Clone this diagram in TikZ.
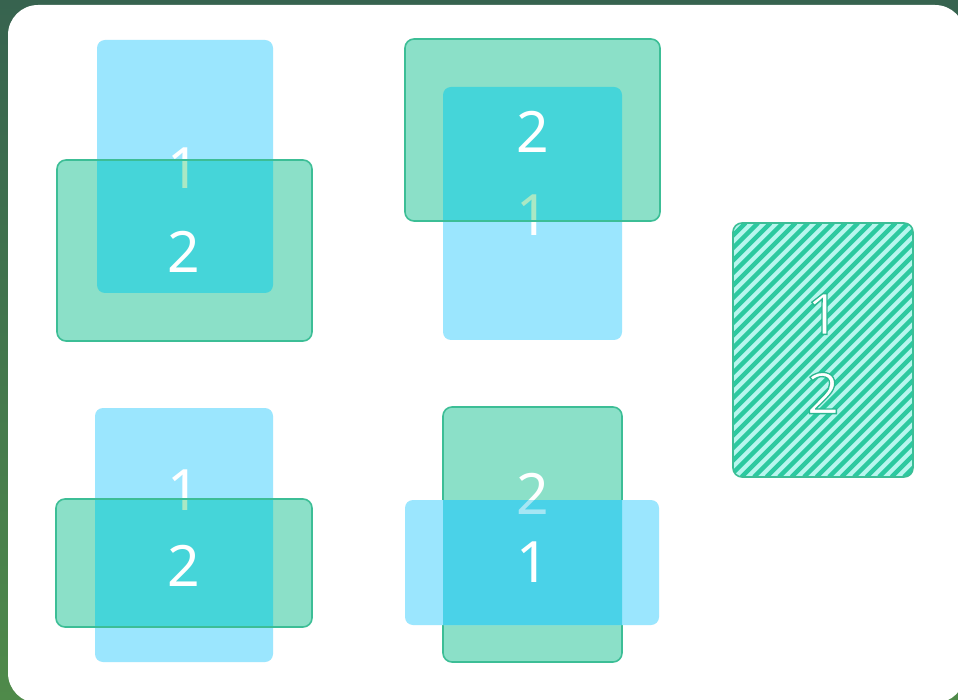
\documentclass[tikz,border=0pt]{standalone}
\usepackage{fontspec}
\setmainfont{Noto Sans}
\definecolor{bgtop}{HTML}{37634F}
\definecolor{bgbot}{HTML}{4F8A4A}
\definecolor{bluef}{HTML}{9BE6FE}
\definecolor{greenf}{HTML}{8BE0C8}
\definecolor{greenb}{HTML}{3CBE96}
\definecolor{ovgreen}{HTML}{45D5D9}
\definecolor{ovblue}{HTML}{4AD2E8}
\definecolor{fadeg}{HTML}{AAE8C4}
\definecolor{fadeb}{HTML}{A6E6F4}
\definecolor{hatchbg}{HTML}{B8F6EE}
\definecolor{hatchln}{HTML}{2CC9A0}
\newcommand{\outlined}[1]{\special{pdf:literal direct q 2 Tr 1.3 w 0.17 0.72 0.57 RG}#1\special{pdf:literal direct Q}}
\tikzset{
  bluebox/.style={fill=bluef, rounded corners=8pt},
  greenbox/.style={fill=greenf, rounded corners=9pt},
  greenedge/.style={draw=greenb, line width=1.6pt, rounded corners=9pt},
  digit/.style={inner sep=0pt, text=white, font=\fontsize{57}{62}\selectfont},
}
\begin{document}
\begin{tikzpicture}[x=1pt,y=-1pt]
\useasboundingbox (0,0) rectangle (958,700);
\shade[top color=bgtop, bottom color=bgbot] (0,0) rectangle (958,700);
\fill[white, rounded corners=30pt] (8,5) rectangle (965,703);

% ---------- panel 1 (top-left): green over blue
\fill[bluebox] (97,40) rectangle (273,293);
\node[digit] (p1a) at (184,168) {1};
\fill[greenbox] (57,160) rectangle (312,341);
\begin{scope}
  \clip[rounded corners=8pt] (97,40) rectangle (273,293);
  \fill[fill=ovgreen, rounded corners=9pt] (57,160) rectangle (312,341);
  \clip[rounded corners=9pt] (57,160) rectangle (312,341);
  \node[digit, text=fadeg] (p1b) at (184,168) {1};
\end{scope}
\draw[greenedge] (57,160) rectangle (312,341);
\node[digit] (p1c) at (184,252) {2};

% ---------- panel 2 (top-middle): green over blue
\fill[bluebox] (443,87) rectangle (622,340);
\node[digit] (p2a) at (533,215) {1};
\fill[greenbox] (405,39) rectangle (660,221);
\begin{scope}
  \clip[rounded corners=8pt] (443,87) rectangle (622,340);
  \fill[fill=ovgreen, rounded corners=9pt] (405,39) rectangle (660,221);
  \clip[rounded corners=9pt] (405,39) rectangle (660,221);
  \node[digit, text=fadeg] (p2b) at (533,215) {1};
\end{scope}
\draw[greenedge] (405,39) rectangle (660,221);
\node[digit] (p2c) at (533,132) {2};

% ---------- panel 3 (right): hatched
\begin{scope}
  \clip[rounded corners=9pt] (733,223) rectangle (913,477);
  \fill[hatchbg] (733,223) rectangle (913,477);
  \foreach \k in {0,...,36} {
    \draw[hatchln, line width=4.4pt] ({733-254+\k*12.5},477) -- ({733+\k*12.5},223);
  }
\end{scope}
\draw[greenedge] (733,223) rectangle (913,477);
\node[digit] (p3a) at (823,314) {\outlined{1}};
\node[digit] (p3b) at (823,393) {\outlined{2}};

% ---------- panel 4 (bottom-left): green over blue
\fill[bluebox] (95,408) rectangle (273,662);
\node[digit] (p4a) at (184,490) {1};
\fill[greenbox] (56,499) rectangle (312,627);
\begin{scope}
  \clip[rounded corners=8pt] (95,408) rectangle (273,662);
  \fill[fill=ovgreen, rounded corners=9pt] (56,499) rectangle (312,627);
  \clip[rounded corners=9pt] (56,499) rectangle (312,627);
  \node[digit, text=fadeg] (p4b) at (184,490) {1};
\end{scope}
\draw[greenedge] (56,499) rectangle (312,627);
\node[digit] (p4c) at (184,566) {2};

% ---------- panel 5 (bottom-middle): blue over green
\fill[greenbox] (443,407) rectangle (622,662);
\draw[greenedge] (443,407) rectangle (622,662);
\node[digit] (p5a) at (533,494) {2};
\fill[bluebox] (405,500) rectangle (659,625);
\begin{scope}
  \clip[rounded corners=9pt] (443,407) rectangle (622,662);
  \fill[fill=ovblue, rounded corners=8pt] (405,500) rectangle (659,625);
  \clip[rounded corners=8pt] (405,500) rectangle (659,625);
  \node[digit, text=fadeb] (p5b) at (533,494) {2};
\end{scope}
\node[digit] (p5c) at (533,562) {1};
\end{tikzpicture}
\end{document}
